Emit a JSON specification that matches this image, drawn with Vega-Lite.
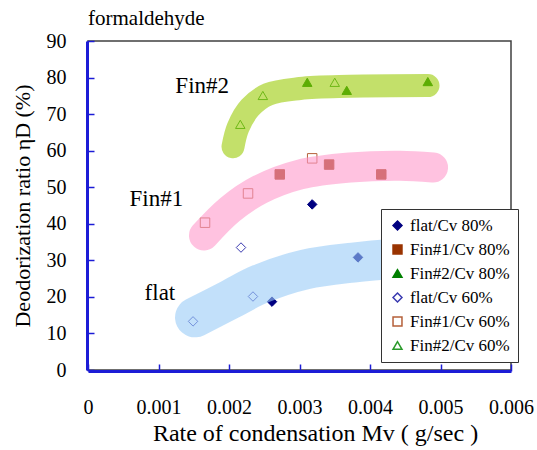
{
  "$schema": "https://vega.github.io/schema/vega-lite/v6.json",
  "width": 423,
  "height": 329,
  "autosize": {"type": "none"},
  "padding": {"left": 88, "top": 41, "right": 26, "bottom": 80},
  "background": "white",
  "title": {
    "text": "formaldehyde",
    "anchor": "start",
    "frame": "group",
    "font": "Liberation Serif",
    "fontSize": 21,
    "fontWeight": "normal",
    "color": "black",
    "offset": 2
  },
  "config": {
    "view": {"stroke": "#404040", "strokeWidth": 1.5},
    "font": "Liberation Serif",
    "title": {"font": "Liberation Serif", "fontWeight": "normal"},
    "text": {"font": "Liberation Serif"},
    "axis": {
      "grid": false,
      "offset": 1,
      "domainColor": "#1c1cd6",
      "domainWidth": 3,
      "tickColor": "#1c1cd6",
      "tickSize": -7,
      "tickWidth": 1.5,
      "labelFont": "Liberation Serif",
      "labelFontSize": 20,
      "labelColor": "black",
      "labelFlush": false,
      "labelOverlap": false,
      "titleFont": "Liberation Serif",
      "titleFontSize": 23,
      "titleFontWeight": "normal",
      "titleColor": "black"
    },
    "legend": {
      "labelFont": "Liberation Serif",
      "labelFontSize": 17,
      "labelColor": "black"
    }
  },
  "datasets": {
    "points": [
      {"series": "flat/Cv 80%", "mv": 0.00318, "eta": 45.3},
      {"series": "flat/Cv 80%", "mv": 0.00261, "eta": 18.7},
      {"series": "flat/Cv 80%", "mv": 0.00383, "eta": 30.8},
      {"series": "Fin#1/Cv 80%", "mv": 0.00272, "eta": 53.5},
      {"series": "Fin#1/Cv 80%", "mv": 0.00342, "eta": 56.2},
      {"series": "Fin#1/Cv 80%", "mv": 0.00416, "eta": 53.5},
      {"series": "Fin#2/Cv 80%", "mv": 0.00311, "eta": 78.7},
      {"series": "Fin#2/Cv 80%", "mv": 0.00367, "eta": 76.5},
      {"series": "Fin#2/Cv 80%", "mv": 0.00482, "eta": 78.9},
      {"series": "flat/Cv 60%", "mv": 0.00217, "eta": 33.5},
      {"series": "flat/Cv 60%", "mv": 0.00234, "eta": 20.1},
      {"series": "flat/Cv 60%", "mv": 0.00149, "eta": 13.3},
      {"series": "Fin#1/Cv 60%", "mv": 0.00166, "eta": 40.3},
      {"series": "Fin#1/Cv 60%", "mv": 0.00227, "eta": 48.3},
      {"series": "Fin#1/Cv 60%", "mv": 0.00318, "eta": 57.9},
      {"series": "Fin#2/Cv 60%", "mv": 0.00216, "eta": 67.2},
      {"series": "Fin#2/Cv 60%", "mv": 0.00248, "eta": 75.1},
      {"series": "Fin#2/Cv 60%", "mv": 0.0035, "eta": 78.7}
    ],
    "bands": [
      {"band": "flat", "mv": 0.001518, "eta": 14.4},
      {"band": "flat", "mv": 0.002014, "eta": 19.3},
      {"band": "flat", "mv": 0.00244, "eta": 23.5},
      {"band": "flat", "mv": 0.003078, "eta": 27.5},
      {"band": "flat", "mv": 0.003759, "eta": 29.4},
      {"band": "flat", "mv": 0.004425, "eta": 30.5},
      {"band": "flat", "mv": 0.004709, "eta": 30.8},
      {"band": "Fin#1", "mv": 0.001645, "eta": 36.8},
      {"band": "Fin#1", "mv": 0.002014, "eta": 43.9},
      {"band": "Fin#1", "mv": 0.00244, "eta": 49.4},
      {"band": "Fin#1", "mv": 0.003007, "eta": 53.5},
      {"band": "Fin#1", "mv": 0.003716, "eta": 55.4},
      {"band": "Fin#1", "mv": 0.004425, "eta": 55.9},
      {"band": "Fin#1", "mv": 0.004894, "eta": 55.4},
      {"band": "Fin#2", "mv": 0.002057, "eta": 61.1},
      {"band": "Fin#2", "mv": 0.002128, "eta": 66.3},
      {"band": "Fin#2", "mv": 0.002298, "eta": 71.8},
      {"band": "Fin#2", "mv": 0.002553, "eta": 75.4},
      {"band": "Fin#2", "mv": 0.003007, "eta": 77.0},
      {"band": "Fin#2", "mv": 0.003716, "eta": 77.6},
      {"band": "Fin#2", "mv": 0.004823, "eta": 77.8}
    ],
    "labels": [
      {"name": "Fin#2", "mv": 0.00162, "eta": 77.8},
      {"name": "Fin#1", "mv": 0.00097, "eta": 46.9},
      {"name": "flat", "mv": 0.00102, "eta": 21.2}
    ]
  },
  "encoding": {
    "x": {
      "field": "mv",
      "type": "quantitative",
      "scale": {"domain": [0, 0.006], "nice": false},
      "axis": {
        "title": "Rate of condensation     Mv  (  g/sec  )",
        "values": [0, 0.001, 0.002, 0.003, 0.004, 0.005, 0.006],
        "labelExpr": "datum.value == 0 ? '0' : format(datum.value, '.3f')",
        "labelPadding": 33,
        "titlePadding": 4,
        "titleFontSize": 24,
        "titleX": 227
      }
    },
    "y": {
      "field": "eta",
      "type": "quantitative",
      "scale": {"domain": [0, 90], "nice": false},
      "axis": {
        "title": "Deodorization ratio  ηD  (%)",
        "values": [0, 10, 20, 30, 40, 50, 60, 70, 80, 90],
        "labelPadding": 28,
        "titlePadding": 12,
        "titleFontSize": 22
      }
    }
  },
  "layer": [
    {
      "data": {"name": "points"},
      "mark": {"type": "point", "size": 90, "strokeWidth": 1, "opacity": 1},
      "encoding": {
        "shape": {
          "field": "series",
          "type": "nominal",
          "scale": {
            "domain": ["flat/Cv 80%", "Fin#1/Cv 80%", "Fin#2/Cv 80%", "flat/Cv 60%", "Fin#1/Cv 60%", "Fin#2/Cv 60%"],
            "range": ["diamond", "square", "triangle-up", "diamond", "square", "triangle-up"]
          },
          "legend": {"title": null}
        },
        "fill": {
          "field": "series",
          "type": "nominal",
          "scale": {
            "domain": ["flat/Cv 80%", "Fin#1/Cv 80%", "Fin#2/Cv 80%", "flat/Cv 60%", "Fin#1/Cv 60%", "Fin#2/Cv 60%"],
            "range": ["#000080", "#993300", "#008000", "white", "white", "white"]
          },
          "legend": {"title": null}
        },
        "stroke": {
          "field": "series",
          "type": "nominal",
          "scale": {
            "domain": ["flat/Cv 80%", "Fin#1/Cv 80%", "Fin#2/Cv 80%", "flat/Cv 60%", "Fin#1/Cv 60%", "Fin#2/Cv 60%"],
            "range": ["#000080", "#993300", "#008000", "#3a3ab0", "#b5603a", "#2a9a2a"]
          },
          "legend": {
            "title": null,
            "orient": "none",
            "legendX": 293,
            "legendY": 168,
            "strokeColor": "#333333",
            "fillColor": "white",
            "padding": 8,
            "symbolSize": 80,
            "rowPadding": 6,
            "labelOffset": 4,
            "labelFont": "Liberation Serif"
          }
        }
      }
    },
    {
      "data": {"name": "bands"},
      "transform": [{"filter": "datum.band == 'flat'"}],
      "mark": {"type": "line", "color": "#99cbf7", "opacity": 0.6, "strokeWidth": 40, "strokeCap": "round", "strokeJoin": "round", "interpolate": "catmull-rom"}
    },
    {
      "data": {"name": "bands"},
      "transform": [{"filter": "datum.band == 'Fin#1'"}],
      "mark": {"type": "line", "color": "#ff99cc", "opacity": 0.6, "strokeWidth": 30, "strokeCap": "round", "strokeJoin": "round", "interpolate": "catmull-rom"}
    },
    {
      "data": {"name": "bands"},
      "transform": [{"filter": "datum.band == 'Fin#2'"}],
      "mark": {"type": "line", "color": "#9bcb07", "opacity": 0.6, "strokeWidth": 23, "strokeCap": "round", "strokeJoin": "round", "interpolate": "catmull-rom"}
    },
    {
      "data": {"name": "labels"},
      "mark": {"type": "text", "font": "Liberation Serif", "fontSize": 23, "color": "black", "align": "center", "baseline": "middle"},
      "encoding": {
        "text": {"field": "name"}
      }
    }
  ]
}
